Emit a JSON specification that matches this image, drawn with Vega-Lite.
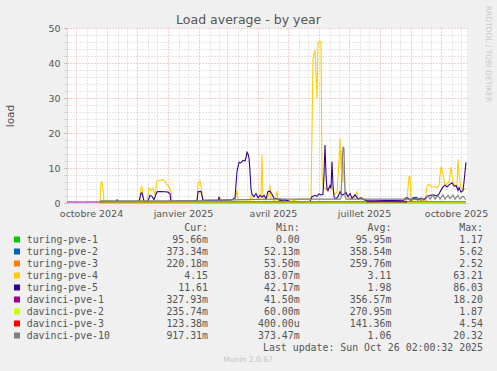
{
  "$schema": "https://vega.github.io/schema/vega-lite/v6.json",
  "width": 400,
  "height": 175,
  "autosize": {"type": "none"},
  "padding": {"left": 67, "top": 28, "right": 30, "bottom": 168},
  "background": "#f0f0f0",
  "title": {"text": "Load average - by year", "font": "DejaVu Sans", "fontSize": 12.5, "fontWeight": "normal", "color": "#555555", "anchor": "middle", "frame": "group", "dx": -18.5, "offset": -21},
  "config": {
    "view": {"fill": "#ffffff", "stroke": null},
    "axis": {"labelFont": "DejaVu Sans", "labelFontSize": 9.5, "labelColor": "#555555", "titleFont": "DejaVu Sans", "titleFontWeight": "normal", "titleColor": "#555555"}
  },
  "datasets": {
    "load": [
      {"s": "davinci-pve-3", "t": "2024-10-25", "v": 0.2},
      {"s": "davinci-pve-3", "t": "2025-04-01", "v": 0.22},
      {"s": "davinci-pve-3", "t": "2025-10-26", "v": 0.2},
      {"s": "turing-pve-1", "t": "2024-10-25", "v": 0.1},
      {"s": "turing-pve-1", "t": "2025-04-01", "v": 0.12},
      {"s": "turing-pve-1", "t": "2025-10-26", "v": 0.1},
      {"s": "turing-pve-2", "t": "2024-10-25", "v": 0.35},
      {"s": "turing-pve-2", "t": "2025-04-21", "v": 0.4},
      {"s": "turing-pve-2", "t": "2025-04-23", "v": 1.2},
      {"s": "turing-pve-2", "t": "2025-04-25", "v": 0.4},
      {"s": "turing-pve-2", "t": "2025-09-01", "v": 0.4},
      {"s": "turing-pve-2", "t": "2025-09-03", "v": 1.5},
      {"s": "turing-pve-2", "t": "2025-09-06", "v": 1.6},
      {"s": "turing-pve-2", "t": "2025-09-09", "v": 1.2},
      {"s": "turing-pve-2", "t": "2025-09-12", "v": 0.5},
      {"s": "turing-pve-2", "t": "2025-10-26", "v": 0.37},
      {"s": "turing-pve-3", "t": "2024-10-25", "v": 0.25},
      {"s": "turing-pve-3", "t": "2025-09-12", "v": 0.3},
      {"s": "turing-pve-3", "t": "2025-09-15", "v": 1.2},
      {"s": "turing-pve-3", "t": "2025-09-17", "v": 0.3},
      {"s": "turing-pve-3", "t": "2025-10-26", "v": 0.22},
      {"s": "turing-pve-4", "t": "2024-10-25", "v": 0.3},
      {"s": "turing-pve-4", "t": "2024-10-26", "v": 5.8},
      {"s": "turing-pve-4", "t": "2024-10-27", "v": 6.1},
      {"s": "turing-pve-4", "t": "2024-10-28", "v": 4},
      {"s": "turing-pve-4", "t": "2024-10-29", "v": 0.3},
      {"s": "turing-pve-4", "t": "2024-12-04", "v": 0.3},
      {"s": "turing-pve-4", "t": "2024-12-05", "v": 4.5},
      {"s": "turing-pve-4", "t": "2024-12-06", "v": 4.6},
      {"s": "turing-pve-4", "t": "2024-12-08", "v": 0.5},
      {"s": "turing-pve-4", "t": "2024-12-11", "v": 0.6},
      {"s": "turing-pve-4", "t": "2024-12-13", "v": 4.3},
      {"s": "turing-pve-4", "t": "2024-12-15", "v": 3.6},
      {"s": "turing-pve-4", "t": "2024-12-17", "v": 4.2},
      {"s": "turing-pve-4", "t": "2024-12-19", "v": 2.3},
      {"s": "turing-pve-4", "t": "2024-12-21", "v": 6.3},
      {"s": "turing-pve-4", "t": "2024-12-24", "v": 6.5},
      {"s": "turing-pve-4", "t": "2024-12-27", "v": 6.6},
      {"s": "turing-pve-4", "t": "2024-12-29", "v": 6.2},
      {"s": "turing-pve-4", "t": "2024-12-31", "v": 5.2},
      {"s": "turing-pve-4", "t": "2025-01-02", "v": 4.6},
      {"s": "turing-pve-4", "t": "2025-01-04", "v": 3.3},
      {"s": "turing-pve-4", "t": "2025-01-05", "v": 0.4},
      {"s": "turing-pve-4", "t": "2025-01-30", "v": 0.4},
      {"s": "turing-pve-4", "t": "2025-01-31", "v": 5.5},
      {"s": "turing-pve-4", "t": "2025-02-02", "v": 6.3},
      {"s": "turing-pve-4", "t": "2025-02-04", "v": 3},
      {"s": "turing-pve-4", "t": "2025-02-05", "v": 0.4},
      {"s": "turing-pve-4", "t": "2025-02-21", "v": 0.4},
      {"s": "turing-pve-4", "t": "2025-02-22", "v": 1.7},
      {"s": "turing-pve-4", "t": "2025-02-23", "v": 0.4},
      {"s": "turing-pve-4", "t": "2025-03-09", "v": 0.5},
      {"s": "turing-pve-4", "t": "2025-03-11", "v": 3.7},
      {"s": "turing-pve-4", "t": "2025-03-12", "v": 0.5},
      {"s": "turing-pve-4", "t": "2025-03-24", "v": 0.6},
      {"s": "turing-pve-4", "t": "2025-03-25", "v": 2},
      {"s": "turing-pve-4", "t": "2025-03-27", "v": 0.8},
      {"s": "turing-pve-4", "t": "2025-04-01", "v": 1.2},
      {"s": "turing-pve-4", "t": "2025-04-04", "v": 1.4},
      {"s": "turing-pve-4", "t": "2025-04-05", "v": 13.7},
      {"s": "turing-pve-4", "t": "2025-04-06", "v": 1.5},
      {"s": "turing-pve-4", "t": "2025-04-09", "v": 0.8},
      {"s": "turing-pve-4", "t": "2025-04-12", "v": 2.5},
      {"s": "turing-pve-4", "t": "2025-04-13", "v": 5.1},
      {"s": "turing-pve-4", "t": "2025-04-14", "v": 1.2},
      {"s": "turing-pve-4", "t": "2025-04-18", "v": 0.6},
      {"s": "turing-pve-4", "t": "2025-04-20", "v": 3.4},
      {"s": "turing-pve-4", "t": "2025-04-21", "v": 0.6},
      {"s": "turing-pve-4", "t": "2025-04-26", "v": 0.5},
      {"s": "turing-pve-4", "t": "2025-04-30", "v": 0.3},
      {"s": "turing-pve-4", "t": "2025-05-13", "v": 1.1},
      {"s": "turing-pve-4", "t": "2025-05-24", "v": 1.1},
      {"s": "turing-pve-4", "t": "2025-05-25", "v": 20},
      {"s": "turing-pve-4", "t": "2025-05-26", "v": 41.3},
      {"s": "turing-pve-4", "t": "2025-05-28", "v": 43.7},
      {"s": "turing-pve-4", "t": "2025-05-30", "v": 30},
      {"s": "turing-pve-4", "t": "2025-05-31", "v": 46},
      {"s": "turing-pve-4", "t": "2025-06-02", "v": 46},
      {"s": "turing-pve-4", "t": "2025-06-03", "v": 46.1},
      {"s": "turing-pve-4", "t": "2025-06-04", "v": 8},
      {"s": "turing-pve-4", "t": "2025-06-05", "v": 4.7},
      {"s": "turing-pve-4", "t": "2025-06-08", "v": 3.8},
      {"s": "turing-pve-4", "t": "2025-06-11", "v": 4.5},
      {"s": "turing-pve-4", "t": "2025-06-14", "v": 4},
      {"s": "turing-pve-4", "t": "2025-06-17", "v": 2.5},
      {"s": "turing-pve-4", "t": "2025-06-19", "v": 3},
      {"s": "turing-pve-4", "t": "2025-06-21", "v": 12},
      {"s": "turing-pve-4", "t": "2025-06-22", "v": 18.4},
      {"s": "turing-pve-4", "t": "2025-06-23", "v": 10},
      {"s": "turing-pve-4", "t": "2025-06-24", "v": 15},
      {"s": "turing-pve-4", "t": "2025-06-25", "v": 6},
      {"s": "turing-pve-4", "t": "2025-06-26", "v": 12},
      {"s": "turing-pve-4", "t": "2025-06-27", "v": 4},
      {"s": "turing-pve-4", "t": "2025-06-29", "v": 2},
      {"s": "turing-pve-4", "t": "2025-07-02", "v": 1.2},
      {"s": "turing-pve-4", "t": "2025-07-06", "v": 1.5},
      {"s": "turing-pve-4", "t": "2025-07-09", "v": 3.2},
      {"s": "turing-pve-4", "t": "2025-07-10", "v": 1},
      {"s": "turing-pve-4", "t": "2025-07-14", "v": 1.5},
      {"s": "turing-pve-4", "t": "2025-07-18", "v": 0.6},
      {"s": "turing-pve-4", "t": "2025-07-22", "v": 0.4},
      {"s": "turing-pve-4", "t": "2025-08-26", "v": 0.4},
      {"s": "turing-pve-4", "t": "2025-08-28", "v": 1},
      {"s": "turing-pve-4", "t": "2025-08-30", "v": 7.5},
      {"s": "turing-pve-4", "t": "2025-08-31", "v": 7.6},
      {"s": "turing-pve-4", "t": "2025-09-01", "v": 1.5},
      {"s": "turing-pve-4", "t": "2025-09-03", "v": 0.5},
      {"s": "turing-pve-4", "t": "2025-09-15", "v": 0.6},
      {"s": "turing-pve-4", "t": "2025-09-17", "v": 4.6},
      {"s": "turing-pve-4", "t": "2025-09-19", "v": 5.4},
      {"s": "turing-pve-4", "t": "2025-09-22", "v": 4.5},
      {"s": "turing-pve-4", "t": "2025-09-25", "v": 4.7},
      {"s": "turing-pve-4", "t": "2025-09-27", "v": 4.3},
      {"s": "turing-pve-4", "t": "2025-09-29", "v": 5},
      {"s": "turing-pve-4", "t": "2025-10-01", "v": 10.4},
      {"s": "turing-pve-4", "t": "2025-10-03", "v": 8.5},
      {"s": "turing-pve-4", "t": "2025-10-05", "v": 5.1},
      {"s": "turing-pve-4", "t": "2025-10-07", "v": 5.5},
      {"s": "turing-pve-4", "t": "2025-10-09", "v": 6},
      {"s": "turing-pve-4", "t": "2025-10-11", "v": 10.3},
      {"s": "turing-pve-4", "t": "2025-10-13", "v": 6},
      {"s": "turing-pve-4", "t": "2025-10-15", "v": 5},
      {"s": "turing-pve-4", "t": "2025-10-17", "v": 4.6},
      {"s": "turing-pve-4", "t": "2025-10-18", "v": 12.5},
      {"s": "turing-pve-4", "t": "2025-10-19", "v": 8},
      {"s": "turing-pve-4", "t": "2025-10-21", "v": 4.3},
      {"s": "turing-pve-4", "t": "2025-10-23", "v": 3.8},
      {"s": "turing-pve-4", "t": "2025-10-26", "v": 4.15},
      {"s": "turing-pve-5", "t": "2024-10-25", "v": 0.4},
      {"s": "turing-pve-5", "t": "2024-11-10", "v": 0.4},
      {"s": "turing-pve-5", "t": "2024-11-11", "v": 0.9},
      {"s": "turing-pve-5", "t": "2024-11-12", "v": 0.4},
      {"s": "turing-pve-5", "t": "2024-12-03", "v": 0.4},
      {"s": "turing-pve-5", "t": "2024-12-05", "v": 2.8},
      {"s": "turing-pve-5", "t": "2024-12-06", "v": 2.9},
      {"s": "turing-pve-5", "t": "2024-12-08", "v": 0.4},
      {"s": "turing-pve-5", "t": "2024-12-12", "v": 0.5},
      {"s": "turing-pve-5", "t": "2024-12-14", "v": 2.2},
      {"s": "turing-pve-5", "t": "2024-12-16", "v": 1.9},
      {"s": "turing-pve-5", "t": "2024-12-18", "v": 1},
      {"s": "turing-pve-5", "t": "2024-12-21", "v": 3.2},
      {"s": "turing-pve-5", "t": "2024-12-24", "v": 3.3},
      {"s": "turing-pve-5", "t": "2024-12-29", "v": 3.2},
      {"s": "turing-pve-5", "t": "2025-01-01", "v": 3.1},
      {"s": "turing-pve-5", "t": "2025-01-03", "v": 2.6},
      {"s": "turing-pve-5", "t": "2025-01-04", "v": 0.5},
      {"s": "turing-pve-5", "t": "2025-01-30", "v": 0.6},
      {"s": "turing-pve-5", "t": "2025-01-31", "v": 3.2},
      {"s": "turing-pve-5", "t": "2025-02-03", "v": 3.3},
      {"s": "turing-pve-5", "t": "2025-02-05", "v": 0.8},
      {"s": "turing-pve-5", "t": "2025-02-12", "v": 0.8},
      {"s": "turing-pve-5", "t": "2025-02-20", "v": 0.8},
      {"s": "turing-pve-5", "t": "2025-02-21", "v": 1.6},
      {"s": "turing-pve-5", "t": "2025-02-22", "v": 0.8},
      {"s": "turing-pve-5", "t": "2025-03-06", "v": 0.9},
      {"s": "turing-pve-5", "t": "2025-03-09", "v": 1.5},
      {"s": "turing-pve-5", "t": "2025-03-11", "v": 9},
      {"s": "turing-pve-5", "t": "2025-03-13", "v": 11.6},
      {"s": "turing-pve-5", "t": "2025-03-15", "v": 11.5},
      {"s": "turing-pve-5", "t": "2025-03-17", "v": 12.2},
      {"s": "turing-pve-5", "t": "2025-03-19", "v": 12},
      {"s": "turing-pve-5", "t": "2025-03-20", "v": 13},
      {"s": "turing-pve-5", "t": "2025-03-21", "v": 14.5},
      {"s": "turing-pve-5", "t": "2025-03-22", "v": 14},
      {"s": "turing-pve-5", "t": "2025-03-23", "v": 13},
      {"s": "turing-pve-5", "t": "2025-03-24", "v": 9},
      {"s": "turing-pve-5", "t": "2025-03-25", "v": 4},
      {"s": "turing-pve-5", "t": "2025-03-26", "v": 2.5},
      {"s": "turing-pve-5", "t": "2025-03-28", "v": 1.8},
      {"s": "turing-pve-5", "t": "2025-03-30", "v": 2.7},
      {"s": "turing-pve-5", "t": "2025-04-01", "v": 1.5},
      {"s": "turing-pve-5", "t": "2025-04-03", "v": 2.2},
      {"s": "turing-pve-5", "t": "2025-04-05", "v": 1.7},
      {"s": "turing-pve-5", "t": "2025-04-07", "v": 2.2},
      {"s": "turing-pve-5", "t": "2025-04-09", "v": 1.2},
      {"s": "turing-pve-5", "t": "2025-04-11", "v": 3.3},
      {"s": "turing-pve-5", "t": "2025-04-13", "v": 3.4},
      {"s": "turing-pve-5", "t": "2025-04-15", "v": 2.5},
      {"s": "turing-pve-5", "t": "2025-04-17", "v": 1.3},
      {"s": "turing-pve-5", "t": "2025-04-20", "v": 1.2},
      {"s": "turing-pve-5", "t": "2025-04-23", "v": 0.8},
      {"s": "turing-pve-5", "t": "2025-04-28", "v": 0.9},
      {"s": "turing-pve-5", "t": "2025-05-03", "v": 0.5},
      {"s": "turing-pve-5", "t": "2025-05-13", "v": 0.4},
      {"s": "turing-pve-5", "t": "2025-05-23", "v": 0.5},
      {"s": "turing-pve-5", "t": "2025-05-25", "v": 1.8},
      {"s": "turing-pve-5", "t": "2025-05-28", "v": 2.2},
      {"s": "turing-pve-5", "t": "2025-05-30", "v": 1.9},
      {"s": "turing-pve-5", "t": "2025-06-01", "v": 2.6},
      {"s": "turing-pve-5", "t": "2025-06-03", "v": 2.3},
      {"s": "turing-pve-5", "t": "2025-06-05", "v": 2.5},
      {"s": "turing-pve-5", "t": "2025-06-06", "v": 8},
      {"s": "turing-pve-5", "t": "2025-06-07", "v": 16.6},
      {"s": "turing-pve-5", "t": "2025-06-08", "v": 8},
      {"s": "turing-pve-5", "t": "2025-06-09", "v": 4},
      {"s": "turing-pve-5", "t": "2025-06-10", "v": 3.5},
      {"s": "turing-pve-5", "t": "2025-06-12", "v": 5},
      {"s": "turing-pve-5", "t": "2025-06-13", "v": 4.2},
      {"s": "turing-pve-5", "t": "2025-06-14", "v": 11.8},
      {"s": "turing-pve-5", "t": "2025-06-15", "v": 5},
      {"s": "turing-pve-5", "t": "2025-06-16", "v": 1.7},
      {"s": "turing-pve-5", "t": "2025-06-18", "v": 1.2},
      {"s": "turing-pve-5", "t": "2025-06-20", "v": 1.8},
      {"s": "turing-pve-5", "t": "2025-06-22", "v": 3.2},
      {"s": "turing-pve-5", "t": "2025-06-24", "v": 2.2},
      {"s": "turing-pve-5", "t": "2025-06-26", "v": 2.5},
      {"s": "turing-pve-5", "t": "2025-06-28", "v": 3},
      {"s": "turing-pve-5", "t": "2025-06-30", "v": 1.8},
      {"s": "turing-pve-5", "t": "2025-07-02", "v": 2.7},
      {"s": "turing-pve-5", "t": "2025-07-04", "v": 1.3},
      {"s": "turing-pve-5", "t": "2025-07-07", "v": 2.4},
      {"s": "turing-pve-5", "t": "2025-07-10", "v": 1.2},
      {"s": "turing-pve-5", "t": "2025-07-13", "v": 1.5},
      {"s": "turing-pve-5", "t": "2025-07-16", "v": 0.9},
      {"s": "turing-pve-5", "t": "2025-07-19", "v": 0.7},
      {"s": "turing-pve-5", "t": "2025-07-27", "v": 0.6},
      {"s": "turing-pve-5", "t": "2025-08-06", "v": 0.7},
      {"s": "turing-pve-5", "t": "2025-08-16", "v": 0.7},
      {"s": "turing-pve-5", "t": "2025-08-25", "v": 0.8},
      {"s": "turing-pve-5", "t": "2025-08-27", "v": 1.5},
      {"s": "turing-pve-5", "t": "2025-08-29", "v": 1.4},
      {"s": "turing-pve-5", "t": "2025-08-31", "v": 0.8},
      {"s": "turing-pve-5", "t": "2025-09-04", "v": 1.3},
      {"s": "turing-pve-5", "t": "2025-09-08", "v": 0.9},
      {"s": "turing-pve-5", "t": "2025-09-11", "v": 1.4},
      {"s": "turing-pve-5", "t": "2025-09-14", "v": 1},
      {"s": "turing-pve-5", "t": "2025-09-17", "v": 1.8},
      {"s": "turing-pve-5", "t": "2025-09-20", "v": 2.2},
      {"s": "turing-pve-5", "t": "2025-09-24", "v": 2.3},
      {"s": "turing-pve-5", "t": "2025-09-27", "v": 2},
      {"s": "turing-pve-5", "t": "2025-09-29", "v": 2.6},
      {"s": "turing-pve-5", "t": "2025-10-01", "v": 3.7},
      {"s": "turing-pve-5", "t": "2025-10-03", "v": 4.6},
      {"s": "turing-pve-5", "t": "2025-10-05", "v": 5.1},
      {"s": "turing-pve-5", "t": "2025-10-07", "v": 4.6},
      {"s": "turing-pve-5", "t": "2025-10-09", "v": 5.2},
      {"s": "turing-pve-5", "t": "2025-10-12", "v": 5.8},
      {"s": "turing-pve-5", "t": "2025-10-14", "v": 4.8},
      {"s": "turing-pve-5", "t": "2025-10-16", "v": 5},
      {"s": "turing-pve-5", "t": "2025-10-18", "v": 3.6},
      {"s": "turing-pve-5", "t": "2025-10-19", "v": 4.4},
      {"s": "turing-pve-5", "t": "2025-10-21", "v": 3.1},
      {"s": "turing-pve-5", "t": "2025-10-23", "v": 3.5},
      {"s": "turing-pve-5", "t": "2025-10-24", "v": 6},
      {"s": "turing-pve-5", "t": "2025-10-26", "v": 11.61},
      {"s": "davinci-pve-1", "t": "2024-09-22", "v": 0.3},
      {"s": "davinci-pve-1", "t": "2024-10-25", "v": 0.3},
      {"s": "davinci-pve-1", "t": "2025-01-15", "v": 0.35},
      {"s": "davinci-pve-1", "t": "2025-04-15", "v": 0.4},
      {"s": "davinci-pve-1", "t": "2025-07-19", "v": 0.4},
      {"s": "davinci-pve-1", "t": "2025-08-08", "v": 0.42},
      {"s": "davinci-pve-1", "t": "2025-08-28", "v": 0.4},
      {"s": "davinci-pve-1", "t": "2025-10-26", "v": 0.33},
      {"s": "davinci-pve-2", "t": "2024-10-25", "v": 0.27},
      {"s": "davinci-pve-2", "t": "2025-03-01", "v": 0.28},
      {"s": "davinci-pve-2", "t": "2025-07-19", "v": 0.27},
      {"s": "davinci-pve-2", "t": "2025-08-08", "v": null},
      {"s": "davinci-pve-2", "t": "2025-08-28", "v": 0.25},
      {"s": "davinci-pve-2", "t": "2025-10-26", "v": 0.24},
      {"s": "davinci-pve-10", "t": "2024-10-25", "v": 0.6},
      {"s": "davinci-pve-10", "t": "2025-02-02", "v": 0.6},
      {"s": "davinci-pve-10", "t": "2025-02-07", "v": 0.8},
      {"s": "davinci-pve-10", "t": "2025-03-04", "v": 0.9},
      {"s": "davinci-pve-10", "t": "2025-03-24", "v": 1},
      {"s": "davinci-pve-10", "t": "2025-04-23", "v": 1.1},
      {"s": "davinci-pve-10", "t": "2025-06-22", "v": 1.1},
      {"s": "davinci-pve-10", "t": "2025-06-23", "v": 1.3},
      {"s": "davinci-pve-10", "t": "2025-06-24", "v": 9},
      {"s": "davinci-pve-10", "t": "2025-06-25", "v": 16.1},
      {"s": "davinci-pve-10", "t": "2025-06-26", "v": 15.5},
      {"s": "davinci-pve-10", "t": "2025-06-27", "v": 2},
      {"s": "davinci-pve-10", "t": "2025-06-28", "v": 1.1},
      {"s": "davinci-pve-10", "t": "2025-08-01", "v": 1.1},
      {"s": "davinci-pve-10", "t": "2025-09-10", "v": 1.1},
      {"s": "davinci-pve-10", "t": "2025-09-16", "v": 1.2},
      {"s": "davinci-pve-10", "t": "2025-09-18", "v": 2.2},
      {"s": "davinci-pve-10", "t": "2025-09-20", "v": 1.1},
      {"s": "davinci-pve-10", "t": "2025-09-23", "v": 2.3},
      {"s": "davinci-pve-10", "t": "2025-09-25", "v": 1.1},
      {"s": "davinci-pve-10", "t": "2025-09-28", "v": 2.2},
      {"s": "davinci-pve-10", "t": "2025-09-30", "v": 1.1},
      {"s": "davinci-pve-10", "t": "2025-10-03", "v": 2.3},
      {"s": "davinci-pve-10", "t": "2025-10-05", "v": 1.1},
      {"s": "davinci-pve-10", "t": "2025-10-08", "v": 2.2},
      {"s": "davinci-pve-10", "t": "2025-10-10", "v": 1.2},
      {"s": "davinci-pve-10", "t": "2025-10-13", "v": 2.3},
      {"s": "davinci-pve-10", "t": "2025-10-15", "v": 1.1},
      {"s": "davinci-pve-10", "t": "2025-10-18", "v": 2.2},
      {"s": "davinci-pve-10", "t": "2025-10-20", "v": 1.1},
      {"s": "davinci-pve-10", "t": "2025-10-23", "v": 2},
      {"s": "davinci-pve-10", "t": "2025-10-26", "v": 0.92}
    ],
    "stats": [
      {"s": "turing-pve-1", "Cur": "95.66m", "Min": "0.00\u00a0", "Avg": "95.95m", "Max": "1.17\u00a0"},
      {"s": "turing-pve-2", "Cur": "373.34m", "Min": "52.13m", "Avg": "358.54m", "Max": "5.62\u00a0"},
      {"s": "turing-pve-3", "Cur": "220.18m", "Min": "53.50m", "Avg": "259.76m", "Max": "2.52\u00a0"},
      {"s": "turing-pve-4", "Cur": "4.15\u00a0", "Min": "83.07m", "Avg": "3.11\u00a0", "Max": "63.21\u00a0"},
      {"s": "turing-pve-5", "Cur": "11.61\u00a0", "Min": "42.17m", "Avg": "1.98\u00a0", "Max": "86.03\u00a0"},
      {"s": "davinci-pve-1", "Cur": "327.93m", "Min": "41.50m", "Avg": "356.57m", "Max": "18.20\u00a0"},
      {"s": "davinci-pve-2", "Cur": "235.74m", "Min": "60.00m", "Avg": "270.95m", "Max": "1.87\u00a0"},
      {"s": "davinci-pve-3", "Cur": "123.38m", "Min": "400.00u", "Avg": "141.36m", "Max": "4.54\u00a0"},
      {"s": "davinci-pve-10", "Cur": "917.31m", "Min": "373.47m", "Avg": "1.06\u00a0", "Max": "20.32\u00a0"}
    ],
    "heads": [
      {"row": "hdr", "col": "Cur", "txt": "Cur:\u00a0\u00a0"},
      {"row": "hdr", "col": "Min", "txt": "Min:\u00a0\u00a0"},
      {"row": "hdr", "col": "Avg", "txt": "Avg:\u00a0\u00a0"},
      {"row": "hdr", "col": "Max", "txt": "Max:\u00a0\u00a0"},
      {"row": "upd", "col": "Max", "txt": "Last update: Sun Oct 26 02:00:32 2025"}
    ],
    "foot": [
      {"row": "mun", "txt": "Munin 2.0.67"}
    ]
  },
  "layer": [
    {
      "data": {"name": "load"},
      "mark": {"type": "line", "strokeWidth": 1.1, "invalid": "break-paths-show-domains"},
      "encoding": {
        "x": {
          "field": "t", "type": "temporal",
          "scale": {"type": "utc", "domain": [{"year": 2024, "month": 9, "date": 22, "utc": true}, {"year": 2025, "month": 10, "date": 27, "utc": true}]},
          "axis": {
            "title": null,
            "values": [
              {"year": 2024, "month": 10, "date": 1, "utc": true}, {"year": 2024, "month": 10, "date": 12, "utc": true}, {"year": 2024, "month": 10, "date": 21, "utc": true},
              {"year": 2024, "month": 11, "date": 1, "utc": true}, {"year": 2024, "month": 11, "date": 12, "utc": true}, {"year": 2024, "month": 11, "date": 21, "utc": true},
              {"year": 2024, "month": 12, "date": 1, "utc": true}, {"year": 2024, "month": 12, "date": 12, "utc": true}, {"year": 2024, "month": 12, "date": 21, "utc": true},
              {"year": 2025, "month": 1, "date": 1, "utc": true}, {"year": 2025, "month": 1, "date": 12, "utc": true}, {"year": 2025, "month": 1, "date": 21, "utc": true},
              {"year": 2025, "month": 2, "date": 1, "utc": true}, {"year": 2025, "month": 2, "date": 12, "utc": true}, {"year": 2025, "month": 2, "date": 21, "utc": true},
              {"year": 2025, "month": 3, "date": 1, "utc": true}, {"year": 2025, "month": 3, "date": 12, "utc": true}, {"year": 2025, "month": 3, "date": 21, "utc": true},
              {"year": 2025, "month": 4, "date": 1, "utc": true}, {"year": 2025, "month": 4, "date": 12, "utc": true}, {"year": 2025, "month": 4, "date": 21, "utc": true},
              {"year": 2025, "month": 5, "date": 1, "utc": true}, {"year": 2025, "month": 5, "date": 12, "utc": true}, {"year": 2025, "month": 5, "date": 21, "utc": true},
              {"year": 2025, "month": 6, "date": 1, "utc": true}, {"year": 2025, "month": 6, "date": 12, "utc": true}, {"year": 2025, "month": 6, "date": 21, "utc": true},
              {"year": 2025, "month": 7, "date": 1, "utc": true}, {"year": 2025, "month": 7, "date": 12, "utc": true}, {"year": 2025, "month": 7, "date": 21, "utc": true},
              {"year": 2025, "month": 8, "date": 1, "utc": true}, {"year": 2025, "month": 8, "date": 12, "utc": true}, {"year": 2025, "month": 8, "date": 21, "utc": true},
              {"year": 2025, "month": 9, "date": 1, "utc": true}, {"year": 2025, "month": 9, "date": 12, "utc": true}, {"year": 2025, "month": 9, "date": 21, "utc": true},
              {"year": 2025, "month": 10, "date": 1, "utc": true}, {"year": 2025, "month": 10, "date": 12, "utc": true}, {"year": 2025, "month": 10, "date": 21, "utc": true}
            ],
            "grid": true,
            "gridColor": {"condition": {"test": "utcdate(datum.value) === 1", "value": "#e89c9c"}, "value": "#cccccc"},
            "gridDash": [1, 2],
            "domainColor": "#cfd6f8",
            "ticks": false,
            "labelPadding": 5,
            "labelOffset": 15,
            "labelOverlap": false,
            "labelFlush": false,
            "labelBound": false,
            "labelExpr": "utcdate(datum.value) === 1 && utcmonth(datum.value) % 3 === 0 ? ['janvier','février','mars','avril','mai','juin','juillet','août','septembre','octobre','novembre','décembre'][utcmonth(datum.value)] + ' ' + utcyear(datum.value) : ''"
          }
        },
        "y": {
          "field": "v", "type": "quantitative",
          "scale": {"domain": [0, 50], "nice": false, "zero": true},
          "axis": {
            "title": "load",
            "titleFontSize": 10.5,
            "titleX": -57,
            "titleY": 87.5,
            "titleAngle": -90,
            "titleAlign": "center",
            "titleBaseline": "middle",
            "values": [0, 2, 4, 6, 8, 10, 12, 14, 16, 18, 20, 22, 24, 26, 28, 30, 32, 34, 36, 38, 40, 42, 44, 46, 48, 50],
            "grid": true,
            "gridColor": {"condition": {"test": "datum.value % 10 === 0", "value": "#e89c9c"}, "value": "#cccccc"},
            "gridDash": [1, 2],
            "domainColor": "#cfd6f8",
            "tickSize": 3,
            "tickColor": {"condition": {"test": "datum.value % 10 === 0", "value": "#e89c9c"}, "value": "#cccccc"},
            "labelPadding": 4,
            "labelExpr": "datum.value % 10 === 0 ? datum.label : ''"
          }
        },
        "color": {
          "field": "s", "type": "nominal",
          "scale": {
            "domain": ["turing-pve-1", "turing-pve-2", "turing-pve-3", "turing-pve-4", "turing-pve-5", "davinci-pve-1", "davinci-pve-2", "davinci-pve-3", "davinci-pve-10"],
            "range": ["#00cc00", "#0066b3", "#ff8000", "#ffcc00", "#330099", "#990099", "#ccff00", "#ff0000", "#808080"]
          },
          "legend": null
        }
      }
    },
    {
      "data": {"name": "stats"},
      "mark": {"type": "point", "shape": "square", "filled": true, "size": 36, "opacity": 1, "strokeWidth": 0},
      "encoding": {
        "x": {"field": "s", "type": "nominal", "scale": {"type": "point", "range": [-50, -50]}, "axis": null},
        "y": {
          "field": "s", "type": "nominal",
          "scale": {"type": "point", "padding": 0, "range": [199.5, 331.5], "domain": ["hdr", "turing-pve-1", "turing-pve-2", "turing-pve-3", "turing-pve-4", "turing-pve-5", "davinci-pve-1", "davinci-pve-2", "davinci-pve-3", "davinci-pve-10", "upd", "mun"]},
          "axis": {
            "orient": "right", "labels": false, "ticks": false, "domain": false, "grid": false,
            "title": "RRDTOOL / TOBI OETIKER",
            "titleFontSize": 7.5, "titleColor": "#c8c8c8",
            "titleAngle": 90, "titleX": 20, "titleY": 25.5, "titleAlign": "center", "titleBaseline": "middle"
          }
        },
        "color": {"field": "s", "type": "nominal", "legend": null}
      }
    },
    {
      "data": {"name": "stats"},
      "mark": {"type": "text", "align": "left", "baseline": "middle", "font": "DejaVu Sans Mono", "fontSize": 9.9, "color": "#555555"},
      "encoding": {
        "x": {"field": "s", "type": "nominal", "scale": {"type": "point", "range": [-40.3, -40.3]}, "axis": null},
        "y": {
          "field": "s", "type": "nominal",
          "scale": {"type": "point", "padding": 0, "range": [199.5, 331.5], "domain": ["hdr", "turing-pve-1", "turing-pve-2", "turing-pve-3", "turing-pve-4", "turing-pve-5", "davinci-pve-1", "davinci-pve-2", "davinci-pve-3", "davinci-pve-10", "upd", "mun"]},
          "axis": null
        },
        "text": {"field": "s"}
      }
    },
    {
      "data": {"name": "stats"},
      "transform": [{"fold": ["Cur", "Min", "Avg", "Max"], "as": ["col", "txt"]}],
      "mark": {"type": "text", "align": "right", "baseline": "middle", "font": "DejaVu Sans Mono", "fontSize": 9.9, "color": "#555555"},
      "encoding": {
        "x": {"field": "col", "type": "nominal", "scale": {"type": "point", "padding": 0, "domain": ["Cur", "Min", "Avg", "Max"], "range": [141, 416]}, "axis": null},
        "y": {
          "field": "s", "type": "nominal",
          "scale": {"type": "point", "padding": 0, "range": [199.5, 331.5], "domain": ["hdr", "turing-pve-1", "turing-pve-2", "turing-pve-3", "turing-pve-4", "turing-pve-5", "davinci-pve-1", "davinci-pve-2", "davinci-pve-3", "davinci-pve-10", "upd", "mun"]},
          "axis": null
        },
        "text": {"field": "txt"}
      }
    },
    {
      "data": {"name": "heads"},
      "mark": {"type": "text", "align": "right", "baseline": "middle", "font": "DejaVu Sans Mono", "fontSize": 9.9, "color": "#555555"},
      "encoding": {
        "x": {"field": "col", "type": "nominal", "scale": {"type": "point", "padding": 0, "domain": ["Cur", "Min", "Avg", "Max"], "range": [141, 416]}, "axis": null},
        "y": {
          "field": "row", "type": "nominal",
          "scale": {"type": "point", "padding": 0, "range": [199.5, 331.5], "domain": ["hdr", "turing-pve-1", "turing-pve-2", "turing-pve-3", "turing-pve-4", "turing-pve-5", "davinci-pve-1", "davinci-pve-2", "davinci-pve-3", "davinci-pve-10", "upd", "mun"]},
          "axis": null
        },
        "text": {"field": "txt"}
      }
    },
    {
      "data": {"name": "foot"},
      "mark": {"type": "text", "align": "center", "baseline": "middle", "font": "DejaVu Sans", "fontSize": 7.6, "color": "#c4c4c4"},
      "encoding": {
        "x": {"field": "row", "type": "nominal", "scale": {"type": "point", "range": [181, 181]}, "axis": null},
        "y": {
          "field": "row", "type": "nominal",
          "scale": {"type": "point", "padding": 0, "range": [199.5, 331.5], "domain": ["hdr", "turing-pve-1", "turing-pve-2", "turing-pve-3", "turing-pve-4", "turing-pve-5", "davinci-pve-1", "davinci-pve-2", "davinci-pve-3", "davinci-pve-10", "upd", "mun"]},
          "axis": null
        },
        "text": {"field": "txt"}
      }
    }
  ],
  "resolve": {"scale": {"x": "independent", "y": "independent"}}
}
